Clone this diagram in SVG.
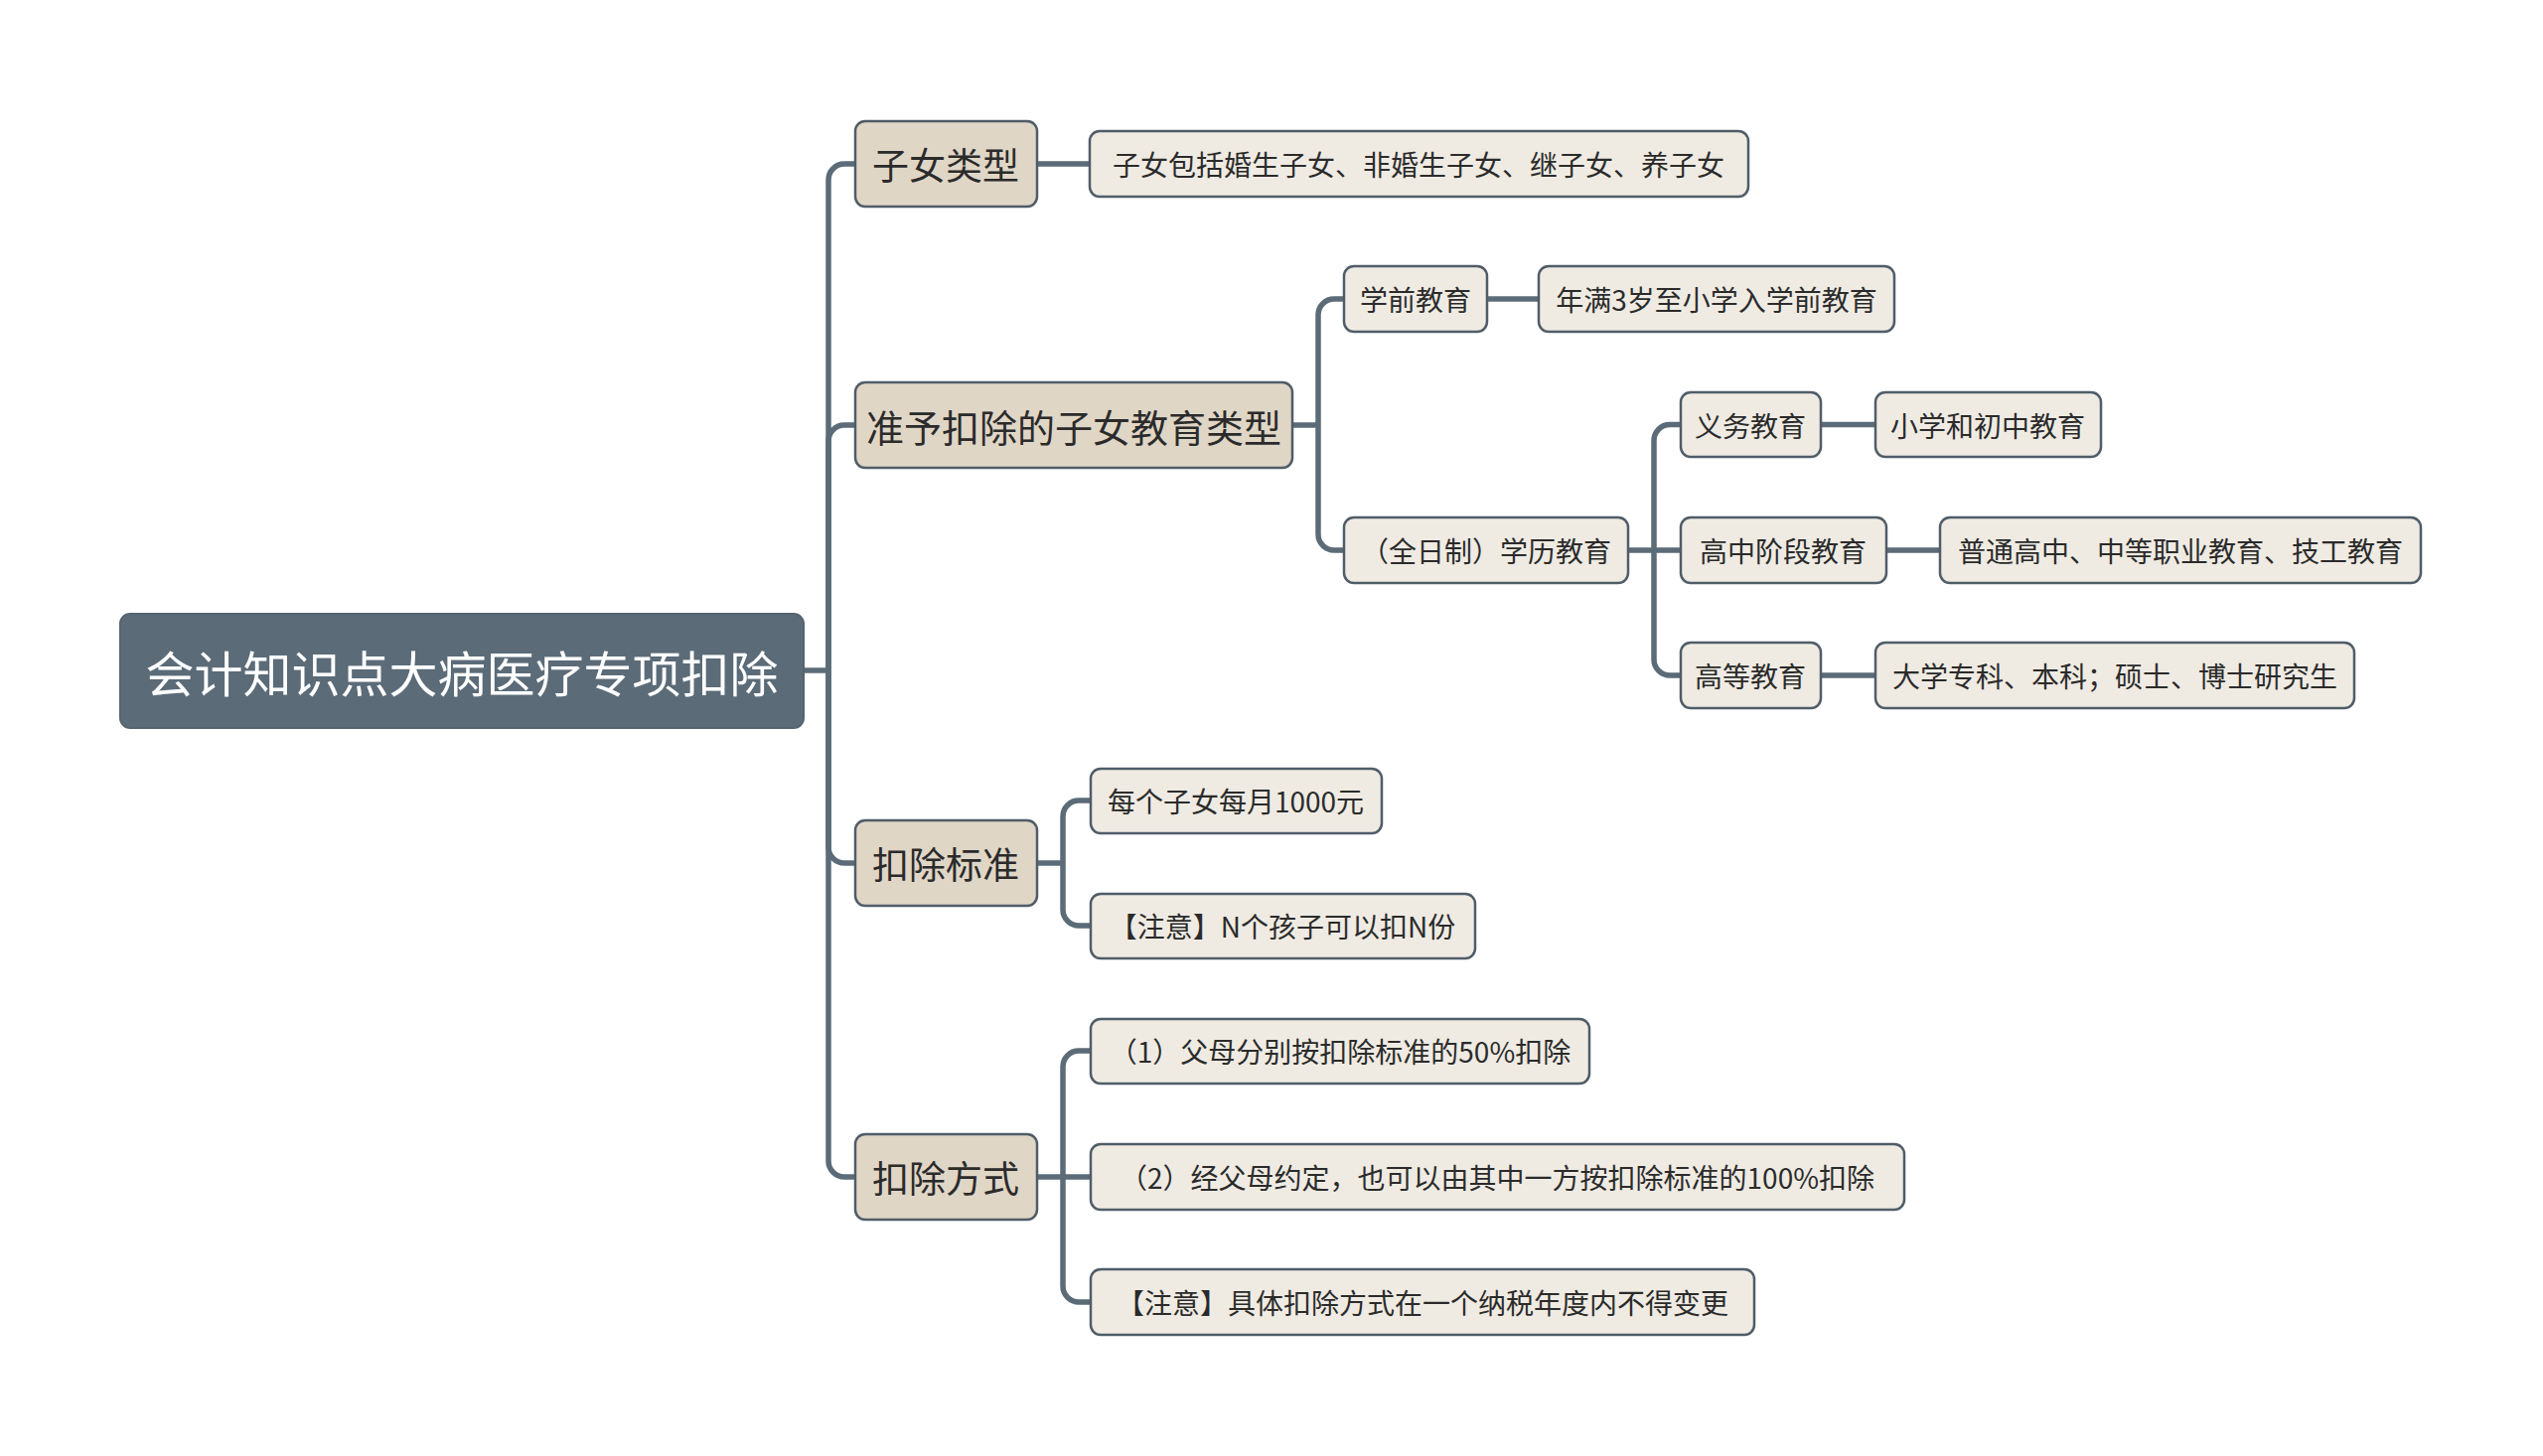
<svg xmlns="http://www.w3.org/2000/svg" width="2560" height="1466" viewBox="0 0 2560 1466">
<style>
.bg{fill:#ffffff}
.conn{fill:none;stroke:#5b6b77;stroke-width:5.5;stroke-linecap:butt;stroke-linejoin:round}
.root rect{fill:#5b6b78;stroke:#55646f;stroke-width:2}
.l1 rect{fill:#e0d6c6;stroke:#4f5d68;stroke-width:2.5}
.l2 rect{fill:#efebe3;stroke:#4f5d68;stroke-width:2.5}
text{font-family:"Noto Sans CJK SC","Microsoft YaHei","Noto Sans",sans-serif;text-anchor:middle;dominant-baseline:central;fill:#2b2b2b}
.root text{fill:#ffffff;font-size:49px}
.l1 text{font-size:37px}
.l1 text.wide{font-size:38px}
.l2 text{font-size:28px}
</style>
<rect class="bg" x="0" y="0" width="2560" height="1466"/>
<g id="connectors">
<path class="conn" d="M809,675 H834"/>
<path class="conn" d="M834,675 V181 A16,16 0 0 1 850,165 H861"/>
<path class="conn" d="M834,675 V444 A16,16 0 0 1 850,428 H861"/>
<path class="conn" d="M834,675 V853 A16,16 0 0 0 850,869 H861"/>
<path class="conn" d="M834,675 V1169 A16,16 0 0 0 850,1185 H861"/>
<path class="conn" d="M1044,165 H1097"/>
<path class="conn" d="M1301,428 H1327"/>
<path class="conn" d="M1327,428 V317 A16,16 0 0 1 1343,301 H1353"/>
<path class="conn" d="M1327,428 V538 A16,16 0 0 0 1343,554 H1353"/>
<path class="conn" d="M1497,301 H1549"/>
<path class="conn" d="M1639,554 H1692"/>
<path class="conn" d="M1665,554 V443.5 A16,16 0 0 1 1681,427.5 H1692"/>
<path class="conn" d="M1665,554 V664 A16,16 0 0 0 1681,680 H1692"/>
<path class="conn" d="M1833,427.5 H1888"/>
<path class="conn" d="M1899,554 H1953"/>
<path class="conn" d="M1833,680 H1888"/>
<path class="conn" d="M1044,869 H1070"/>
<path class="conn" d="M1070,869 V822 A16,16 0 0 1 1086,806 H1098"/>
<path class="conn" d="M1070,869 V916 A16,16 0 0 0 1086,932 H1098"/>
<path class="conn" d="M1044,1185 H1098"/>
<path class="conn" d="M1070,1185 V1074 A16,16 0 0 1 1086,1058 H1098"/>
<path class="conn" d="M1070,1185 V1295 A16,16 0 0 0 1086,1311 H1098"/>
</g>
<g id="root" class="root"><rect x="121" y="618" width="688" height="115" rx="10"/><text x="465" y="675">会计知识点大病医疗专项扣除</text></g>
<g id="n-zinvleixing" class="l1"><rect x="861" y="122" width="183" height="86" rx="10"/><text x="952" y="165">子女类型</text></g>
<g id="n-zhunyu" class="l1"><rect x="861" y="385" width="440" height="86" rx="10"/><text class="wide" x="1081" y="428">准予扣除的子女教育类型</text></g>
<g id="n-biaozhun" class="l1"><rect x="861" y="826" width="183" height="86" rx="10"/><text x="952" y="869">扣除标准</text></g>
<g id="n-fangshi" class="l1"><rect x="861" y="1142" width="183" height="86" rx="10"/><text x="952" y="1185">扣除方式</text></g>
<g id="n-zinv-detail" class="l2"><rect x="1097" y="132" width="663" height="66" rx="10"/><text x="1428" y="165">子女包括婚生子女、非婚生子女、继子女、养子女</text></g>
<g id="n-xueqian" class="l2"><rect x="1353" y="268" width="144" height="66" rx="10"/><text x="1425" y="301">学前教育</text></g>
<g id="n-xueqian-detail" class="l2"><rect x="1549" y="268" width="358" height="66" rx="10"/><text x="1728" y="301">年满3岁至小学入学前教育</text></g>
<g id="n-xueli" class="l2"><rect x="1353" y="521" width="286" height="66" rx="10"/><text x="1496" y="554">（全日制）学历教育</text></g>
<g id="n-yiwu" class="l2"><rect x="1692" y="395" width="141" height="65" rx="10"/><text x="1762" y="427.5">义务教育</text></g>
<g id="n-yiwu-detail" class="l2"><rect x="1888" y="395" width="227" height="65" rx="10"/><text x="2001" y="427.5">小学和初中教育</text></g>
<g id="n-gaozhong" class="l2"><rect x="1692" y="521" width="207" height="66" rx="10"/><text x="1795" y="554">高中阶段教育</text></g>
<g id="n-gaozhong-detail" class="l2"><rect x="1953" y="521" width="484" height="66" rx="10"/><text x="2195" y="554">普通高中、中等职业教育、技工教育</text></g>
<g id="n-gaodeng" class="l2"><rect x="1692" y="647" width="141" height="66" rx="10"/><text x="1762" y="680">高等教育</text></g>
<g id="n-gaodeng-detail" class="l2"><rect x="1888" y="647" width="482" height="66" rx="10"/><text x="2129" y="680">大学专科、本科；硕士、博士研究生</text></g>
<g id="n-biaozhun-1" class="l2"><rect x="1098" y="774" width="293" height="65" rx="10"/><text x="1244" y="806">每个子女每月1000元</text></g>
<g id="n-biaozhun-2" class="l2"><rect x="1098" y="900" width="387" height="65" rx="10"/><text x="1291" y="932">【注意】N个孩子可以扣N份</text></g>
<g id="n-fangshi-1" class="l2"><rect x="1098" y="1026" width="502" height="65" rx="10"/><text x="1349" y="1058">（1）父母分别按扣除标准的50%扣除</text></g>
<g id="n-fangshi-2" class="l2"><rect x="1098" y="1152" width="819" height="66" rx="10"/><text x="1507" y="1185">（2）经父母约定，也可以由其中一方按扣除标准的100%扣除</text></g>
<g id="n-fangshi-3" class="l2"><rect x="1098" y="1278" width="668" height="66" rx="10"/><text x="1432" y="1311">【注意】具体扣除方式在一个纳税年度内不得变更</text></g>
</svg>
